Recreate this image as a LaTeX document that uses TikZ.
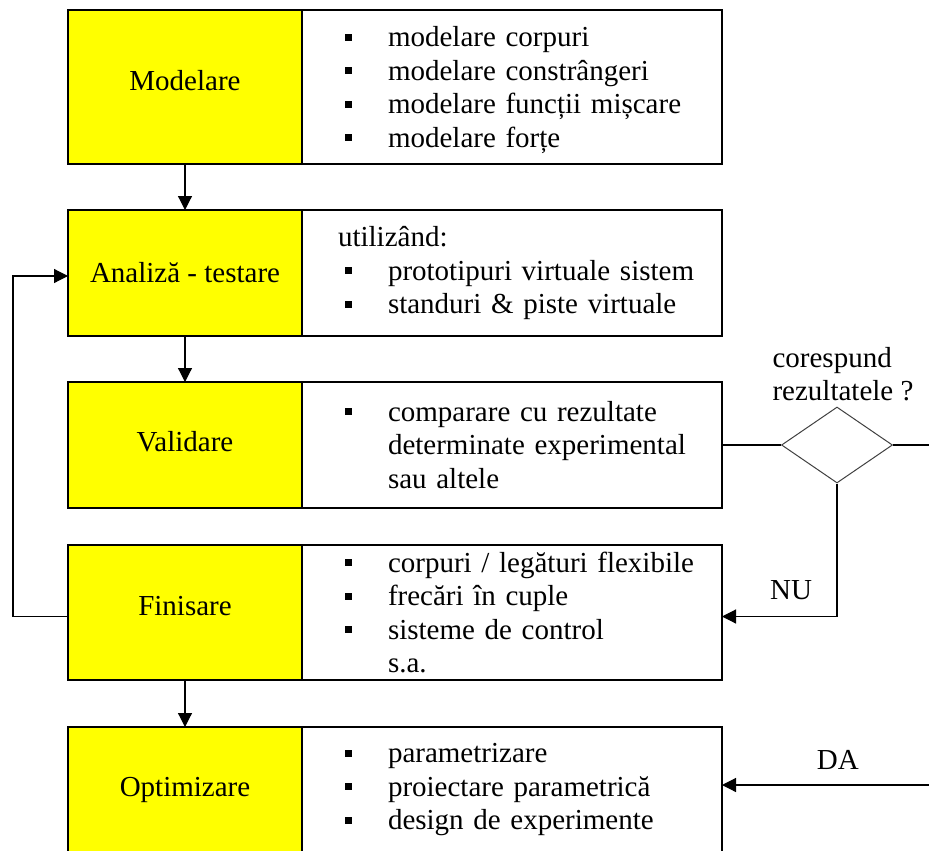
\documentclass[tikz,border=0pt]{standalone}
\usepackage{fontspec}
\setmainfont{Liberation Serif}
\usepackage{tikz}
\usetikzlibrary{positioning,shapes.geometric,arrows.meta}

\definecolor{stageyellow}{RGB}{255,255,0}
\newcommand{\itm}[1]{\hspace*{23pt}\makebox[43pt][l]{\raisebox{6pt}{\rule{7pt}{7pt}}}#1}
\newcommand{\cnt}[1]{\hspace*{66pt}#1}

\tikzset{
	stage/.style={draw, fill=stageyellow, line width=1.2pt, minimum width=234pt, outer sep=0pt, inner sep=0pt, font=\fontsize{29}{33.5}\selectfont},
	detail/.style={draw, fill=white, line width=1.2pt, text width=380pt, inner xsep=20pt, inner ysep=0pt, outer sep=0pt, align=left, font=\fontsize{29}{33.5}\selectfont},
	check/.style={diamond, draw=black!75, line width=1pt, minimum width=111pt, minimum height=76pt, inner sep=0pt},
	tag/.style={inner sep=0pt, align=left, font=\fontsize{29}{33}\selectfont}
}

\begin{document}
\begin{tikzpicture}[x=1pt, y=-1pt, >={Triangle[length=14pt,width=14pt]}]
\clip (0,0) rectangle (929,851);
\node[stage, minimum height=154pt] (model) at (185,87) {\raisebox{14pt}{Modelare}};
\node[detail, minimum height=154pt, right=0pt of model] (modelR)
	{\itm{modelare corpuri}\\ \itm{modelare constrângeri}\\ \itm{modelare funcții mișcare}\\ \itm{\smash{modelare forțe}}};
\node[stage, minimum height=126pt, below=46pt of model] (anal) {Analiză - testare};
\node[detail, minimum height=126pt, right=0pt of anal] (analR)
	{\hspace*{16pt}utilizând:\\ \itm{prototipuri virtuale sistem}\\ \itm{standuri \& piste virtuale}};
\node[stage, minimum height=126pt, below=46pt of anal] (valid) {\raisebox{7pt}{Validare}};
\node[detail, minimum height=126pt, right=0pt of valid] (validR)
	{\itm{comparare cu rezultate}\\ \cnt{determinate experimental}\\ \cnt{sau altele}};
\node[stage, minimum height=135pt, below=37pt of valid] (finis) {\raisebox{14pt}{Finisare}};
\node[detail, minimum height=135pt, right=0pt of finis] (finisR)
	{\itm{corpuri / legături flexibile}\\ \itm{frecări în cuple}\\ \itm{sisteme de control}\\ \cnt{s.a.}};
\node[stage, minimum height=126pt, below=47pt of finis] (optim) {Optimizare};
\node[detail, minimum height=126pt, right=0pt of optim] (optimR)
	{\itm{parametrizare}\\ \itm{proiectare parametrică}\\ \itm{design de experimente}};
\node[check] (dec) at (837,445) {};
\node[tag, above=5pt of dec, xshift=6pt] (ask) {corespund\\rezultatele ?};
\coordinate (outR) at (929,445);
\coordinate (daIn) at (929,785);
\path[->, line width=1.2pt]
(model) edge (anal)
(anal) edge (valid)
(finis) edge (optim)
(daIn) edge node[tag, above=15pt, pos=0.44] (da) {DA} (daIn -| optimR.east)
;
\draw[->, line width=1.2pt] ([yshift=-4pt]finis.west) -- ++(-55,0) |- ([yshift=-3pt]anal.west);
\draw[->, line width=1.2pt] (dec.south) |- node[tag, above=16pt, pos=0.7] (nu) {NU} ([yshift=-4pt]finisR.east);
\draw[line width=1.2pt] (validR.east) -- (dec.west) (dec.east) -- (outR);
\end{tikzpicture}
\end{document}
